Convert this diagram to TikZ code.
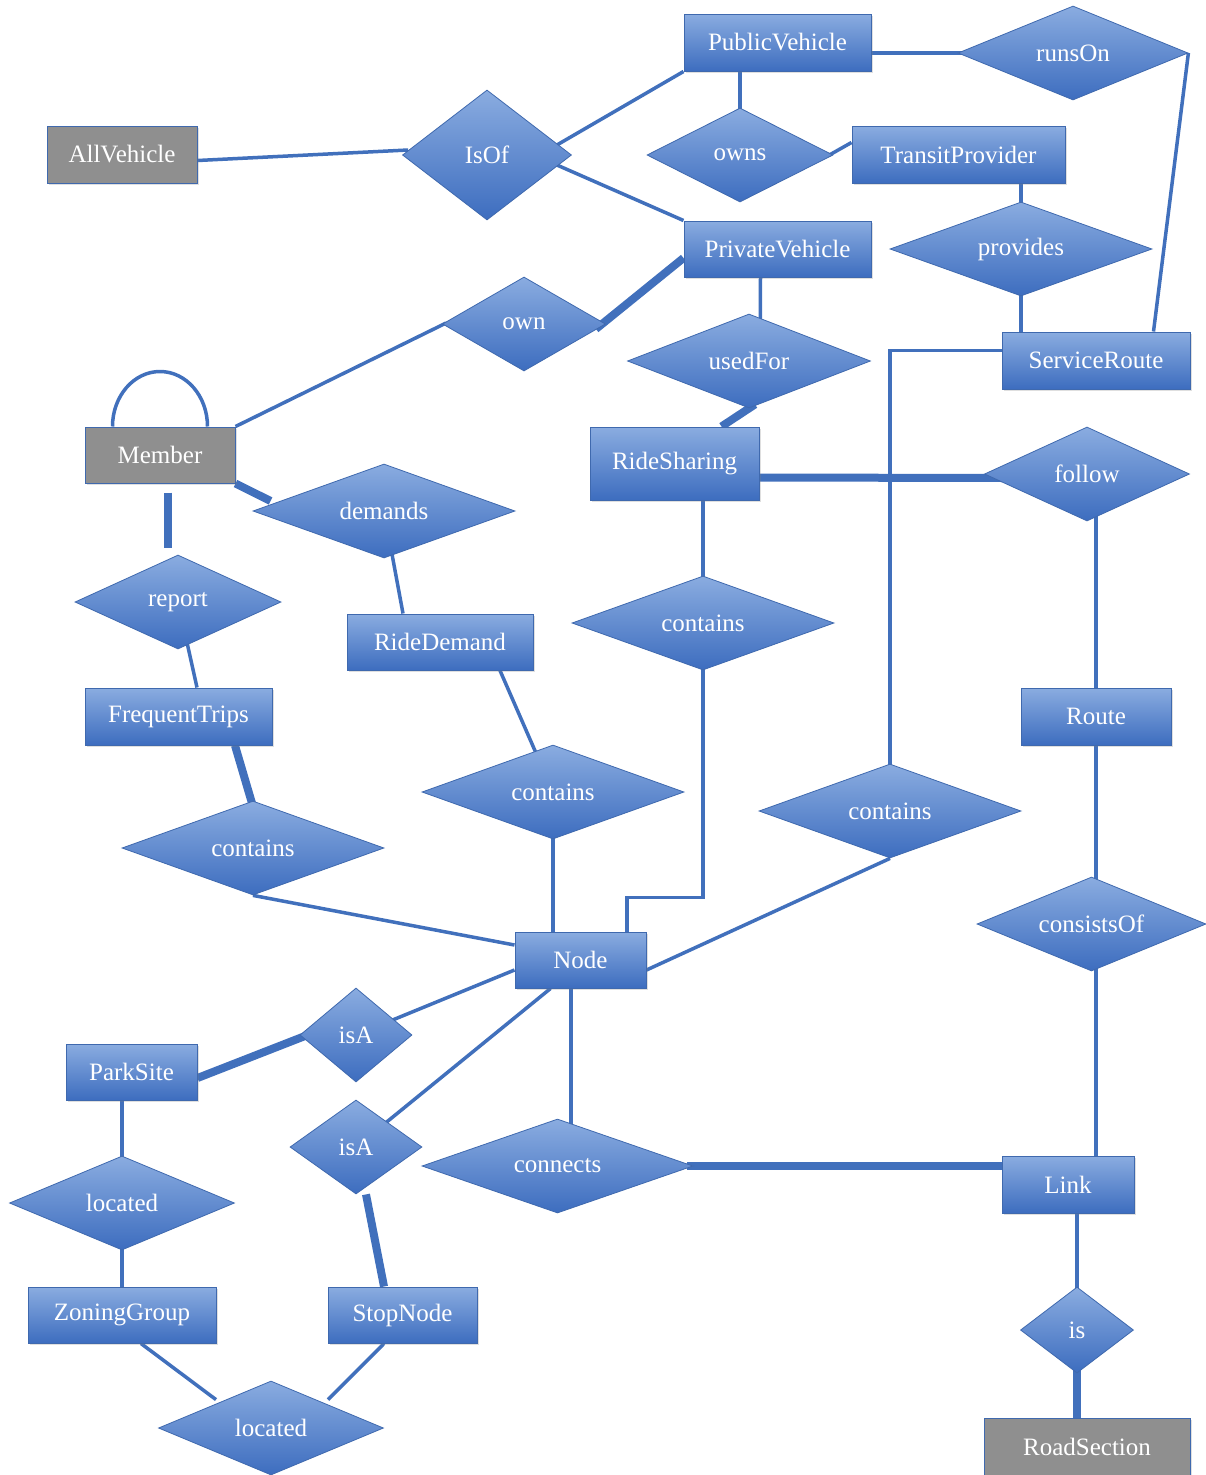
\documentclass[tikz,border=0pt]{standalone}
\usepackage{fontspec}
\setmainfont{Liberation Serif}
\usetikzlibrary{shapes.geometric,calc,shadows}
\definecolor{boxtop}{HTML}{8AACE0}
\definecolor{boxmid}{HTML}{5F8AD2}
\definecolor{boxbot}{HTML}{3D6DBF}
\definecolor{boxedge}{HTML}{3F69AE}
\definecolor{linec}{HTML}{4170BC}
\definecolor{grayfill}{HTML}{8F8F8F}
\pgfdeclarelayer{back}
\pgfdeclarelayer{bg}
\pgfsetlayers{back,bg,main}
\begin{document}
\begin{tikzpicture}[x=1pt,y=-1pt,
  every node/.style={font=\fontsize{25}{30}\selectfont, text=white, inner sep=0pt},
  entity/.style={rectangle, draw=boxedge, line width=1pt, top color=boxtop, middle color=boxmid, bottom color=boxbot,
    drop shadow={shadow xshift=2pt, shadow yshift=-2pt, opacity=0.25}},
  grayentity/.style={rectangle, draw=boxedge, line width=1pt, fill=grayfill,
    drop shadow={shadow xshift=2pt, shadow yshift=-2pt, opacity=0.25}},
  rel/.style={diamond, aspect=2.8, draw=boxedge, line width=0.8pt, top color=boxtop, middle color=boxmid, bottom color=boxbot,
    minimum height=94pt},
  conn/.style={draw=linec, line width=3.5pt},
  connthick/.style={draw=linec, line width=8pt}]
\useasboundingbox (0,0) rectangle (1206,1475);
\begin{pgfonlayer}{back}
\fill[white] (0,0) rectangle (1206,1475);
\end{pgfonlayer}

% entities
\node[entity, minimum width=187pt, minimum height=57pt] (pubv) at (777.5,42.5) {PublicVehicle};
\node[grayentity, minimum width=150pt, minimum height=57pt] (allv) at (122,154.5) {AllVehicle};
\node[entity, minimum width=213pt, minimum height=57pt] (tprov) at (958.5,154.5) {TransitProvider};
\node[entity, minimum width=187pt, minimum height=56pt] (privv) at (777.5,249) {PrivateVehicle};
\node[entity, minimum width=188pt, minimum height=57pt] (sroute) at (1096,360.5) {ServiceRoute};
\node[grayentity, minimum width=150pt, minimum height=56pt] (member) at (160,455) {Member};
\node[entity, minimum width=169pt, minimum height=73pt] (rides) at (674.5,463.5) {RideSharing};
\node[entity, minimum width=186pt, minimum height=56pt] (ridedem) at (440,642) {RideDemand};
\node[entity, minimum width=187pt, minimum height=57pt] (freq) at (178.5,716.5) {FrequentTrips};
\node[entity, minimum width=150pt, minimum height=57pt] (route) at (1096,716.5) {Route};
\node[entity, minimum width=131pt, minimum height=56pt] (node) at (580.5,960) {Node};
\node[entity, minimum width=131pt, minimum height=56pt] (parksite) at (131.5,1072) {ParkSite};
\node[entity, minimum width=132pt, minimum height=57pt] (link) at (1068,1184.5) {Link};
\node[entity, minimum width=188pt, minimum height=56pt] (zoning) at (122,1315) {ZoningGroup};
\node[entity, minimum width=149pt, minimum height=56pt] (stopnode) at (402.5,1315) {StopNode};
\node[grayentity, minimum width=206pt, minimum height=57pt] (roadsec) at (1087,1446.5) {RoadSection};

% relationships
\node[rel, minimum width=169pt, minimum height=130pt] (isof) at (487,155) {IsOf};
\node[rel, minimum width=230pt] (runson) at (1073,53) {runsOn};
\node[rel, minimum width=186pt] (owns) at (740,155) {owns};
\node[rel, minimum width=262pt] (provides) at (1021,249) {provides};
\node[rel, minimum width=163pt] (own) at (524,324) {own};
\node[rel, minimum width=243pt] (usedfor) at (749,361) {usedFor};
\node[rel, minimum width=205pt] (follow) at (1087,474) {follow};
\node[rel, minimum width=262pt] (demands) at (384,511) {demands};
\node[rel, minimum width=206pt] (report) at (178,602) {report};
\node[rel, minimum width=262pt] (containsRS) at (703,623) {contains};
\node[rel, minimum width=262pt] (containsRD) at (553,792) {contains};
\node[rel, minimum width=262pt] (containsSR) at (890,811) {contains};
\node[rel, minimum width=262pt] (containsFT) at (253,848) {contains};
\node[rel, minimum width=229pt] (consistsof) at (1091.5,924) {consistsOf};
\node[rel, minimum width=112pt, aspect=1.2] (isa1) at (356,1035) {isA};
\node[rel, minimum width=132pt, aspect=1.2] (isa2) at (356,1147) {isA};
\node[rel, minimum width=271pt] (connects) at (557.5,1166) {connects};
\node[rel, minimum width=225pt] (located1) at (122,1203) {located};
\node[rel, minimum width=225pt] (located2) at (271,1428) {located};
\node[rel, minimum width=113pt, minimum height=86pt, aspect=1.2] (is) at (1077,1330) {is};

\begin{pgfonlayer}{bg}
\draw[conn] ($(allv.east)+(0,6)$) -- ($(isof.west)+(6,-5)$);
\draw[conn] ($(isof.east)+(-15,-10)$) -- (pubv.south west);
\draw[conn] ($(isof.east)+(-15,10)$) -- (privv.north west);
\draw[conn] (owns.center) -- (owns.center |- pubv.south);
\draw[conn] ($(owns.east)+(-4,0)$) -- ($(tprov.west)+(0,-12)$);
\draw[conn] (runson.center) -- (runson.center -| pubv.east);
\draw[conn] (runson.east) -- ($(sroute.north east)+(-37,0)$);
\draw[conn] (provides.center) -- (provides.center |- tprov.south);
\draw[conn] (provides.center) -- (provides.center |- sroute.north);
\draw[conn] ($(sroute.west)+(0,-10)$) -| (containsSR.center);
\draw[connthick] ($(privv.west)+(0,9)$) -- ($(own.east)+(-10,5)$);
\draw[conn] ($(own.west)+(4,-1)$) -- (member.north east);
\draw[conn] ($(member.north west)+(28,0)$) arc[start angle=180, end angle=0, x radius=47.5pt, y radius=55pt];
\draw[conn] ($(privv.south)+(-17,0)$) -- ($(usedfor.center)+(11,0)$);
\draw[connthick] ($(usedfor.south)+(6,-4)$) -- ($(rides.north)+(47,0)$);
\draw[connthick] ($(rides.east)+(0,14)$) -- ($(follow.west)+(20,4)$);
\draw[conn] ($(follow.center)+(9,0)$) -- (route.north);
\draw[conn] (route.south) -- (route.south |- consistsof.center);
\draw[conn] ($(consistsof.center)+(4.5,0)$) -- ($(link.north)+(28,0)$);
\draw[conn] ($(rides.south)+(28.5,0)$) -- (containsRS.center);
\draw[conn] (containsRS.center) |- ($(node.north)+(46.5,-34)$) -- ($(node.north)+(46.5,0)$);
\draw[connthick] ($(member.south)+(8,9)$) -- ($(report.north)+(-10,-7)$);
\draw[connthick] (member.south east) -- ($(demands.west)+(18,-10)$);
\draw[conn] (demands.center) -- ($(ridedem.north)+(-37,0)$);
\draw[conn] (report.center) -- ($(freq.north)+(18.5,0)$);
\draw[conn] ($(ridedem.south)+(60,0)$) -- (containsRD.center);
\draw[connthick] ($(freq.south)+(56.5,0)$) -- ($(containsFT.north)+(0,6)$);
\draw[conn] (containsFT.south) -- ($(node.west)+(0,-15)$);
\draw[conn] (containsRD.center) -- (containsRD.center |- node.north);
\draw[conn] (containsSR.south) -- ($(node.east)+(0,10)$);
\draw[conn] ($(node.west)+(0,10)$) -- (isa1.center);
\draw[conn] ($(node.south)+(-30,0)$) -- (isa2.center);
\draw[connthick] ($(isa1.west)+(8,0)$) -- ($(parksite.east)+(0,6)$);
\draw[conn] ($(node.south)+(-9.5,0)$) -- ($(connects.center)+(13.5,0)$);
\draw[connthick] ($(connects.east)+(-6,0)$) -- (connects.east -| link.west);
\draw[conn] ($(link.south)+(9,0)$) -- (is.center);
\draw[connthick] (is.center) -- (is.center |- roadsec.north);
\draw[conn] ($(parksite.south)+(-9.5,0)$) -- (located1.center);
\draw[conn] (located1.center) -- (zoning.north);
\draw[connthick] ($(isa2.south)+(10,0)$) -- ($(stopnode.north)+(-18.5,0)$);
\draw[conn] ($(zoning.south)+(19,0)$) -- ($(located2.north)+(-55,19)$);
\draw[conn] ($(stopnode.south)+(-18.5,0)$) -- ($(located2.north)+(57,19)$);
\end{pgfonlayer}
\end{tikzpicture}
\end{document}
